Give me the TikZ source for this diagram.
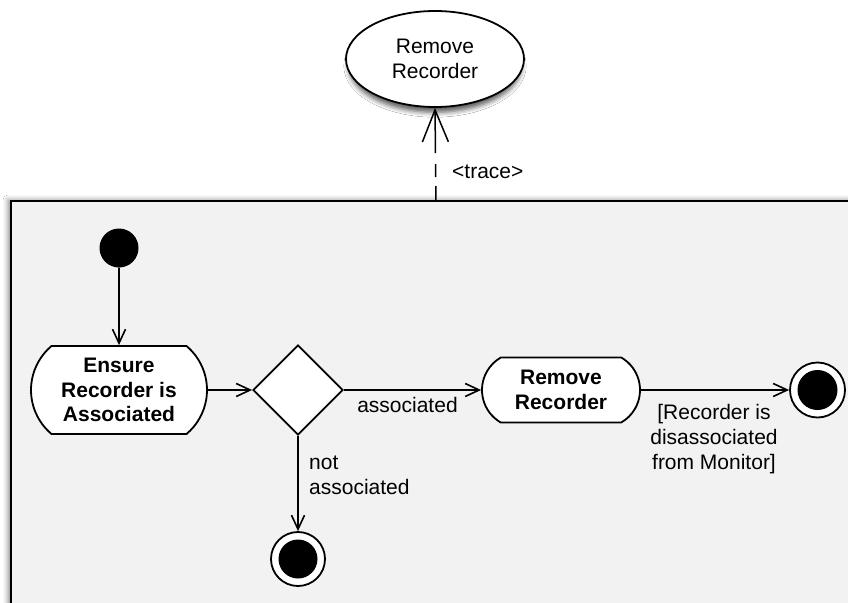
\documentclass[tikz,border=0pt]{standalone}
\usepackage{fontspec}
\setmainfont{Liberation Sans}
\usetikzlibrary{shapes.geometric,shapes.misc,arrows.meta,shadows.blur}
\definecolor{framegray}{HTML}{F2F2F2}
\begin{document}
\begin{tikzpicture}[x=1pt,y=-1pt,
  every node/.style={font=\fontsize{21}{25}\selectfont, text=black},
  action/.style={rounded rectangle, draw=black, fill=white, line width=1.8pt,
    align=center, inner xsep=0pt, inner ysep=0pt, font=\fontsize{21}{24.5}\selectfont\bfseries},
  decision/.style={diamond, draw=black, fill=white, line width=1.8pt,
    minimum width=90pt, minimum height=90pt, inner sep=0pt, aspect=1},
  startnode/.style={circle, fill=black, minimum size=39pt, inner sep=0pt},
  endnode/.style={circle, draw=black, fill=white, line width=1.8pt, minimum size=55pt, inner sep=0pt},
  flow/.style={line width=1.6pt, -{Straight Barb[length=14pt,width=13pt,line width=1.6pt]}},
  lbl/.style={inner sep=0pt, align=center}
]
\useasboundingbox (0,0) rectangle (848,602);
\fill[white] (0,0) rectangle (848,602);
\clip (0,0) rectangle (848,602);

% activity frame (continues past the right and bottom edges)
\path[fill=framegray, draw=black, line width=1.8pt,
  blur shadow={shadow xshift=-3pt, shadow yshift=1pt, shadow blur radius=5pt, shadow opacity=45}]
  (11,201) rectangle (890,650);
\coordinate (tr) at (436,201);

% use case
\node[ellipse, draw=black, fill=white, line width=1.8pt, minimum width=178pt, minimum height=96pt,
  inner sep=0pt, align=center,
  blur shadow={shadow xshift=0pt, shadow yshift=-7pt, shadow scale=0.97, shadow blur radius=5pt, shadow opacity=65}]
  (uc) at (435,59) {Remove\\Recorder};

% trace dependency
\draw[line width=1.5pt, dash pattern=on 15pt off 9pt on 13pt off 11pt on 80pt off 0pt,
  -{Straight Barb[length=32pt,width=26pt,line width=1.5pt]}] (tr) -- (uc.south);
\node[lbl, anchor=west] (tracelbl) at (452,172) {<trace>};

% activity nodes
\node[startnode] (init) at (119,248) {};
\node[action, minimum width=176pt, minimum height=88pt, rounded rectangle arc length=100]
  (ensure) at (119,390) {Ensure\\Recorder is\\Associated};
\node[decision] (dec) at (298,390) {};
\node[action, minimum width=158pt, minimum height=65pt, rounded rectangle arc length=120]
  (rem) at (561,390) {Remove\\Recorder};
\node[endnode] (fin1) at (817.5,390) {};
\fill (fin1.center) circle (20pt);
\node[endnode, minimum size=54pt] (fin2) at (298,559) {};
\fill (fin2.center) circle (19.5pt);

% control flows
\draw[flow] (init) -- (ensure);
\draw[flow] (ensure) -- (dec);
\draw[flow] (dec) -- (rem);
\draw[flow] (rem) -- (fin1);
\draw[flow] (dec) -- (fin2);

% guards
\node[lbl] (assoclbl) at (407.5,405) {associated};
\node[lbl, anchor=west, align=left] (notlbl) at (309,475) {not\\associated};
\node[lbl] (guardlbl) at (714,439) {[Recorder is\\disassociated\\from Monitor]};
\end{tikzpicture}
\end{document}
